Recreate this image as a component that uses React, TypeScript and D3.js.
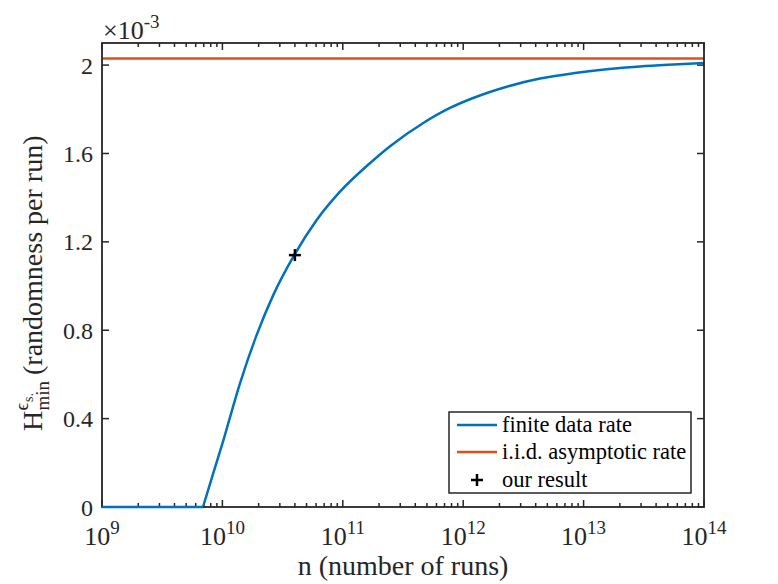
import React from "react";
import * as d3 from "d3";

// ---- data ----
const nRuns: number[] = [
  1e9, 6.9e9, 8.4e9, 1.02e10, 1.4e10, 1.93e10, 2.65e10, 3.96e10, 6.07e10, 9.48e10,
  1.68e11, 2.47e11, 4.66e11, 7.77e11, 1.21e12, 2.3e12, 4.34e12, 8.2e12, 1.56e13,
  2.94e13, 5.56e13, 1e14,
];
const finiteRate: number[] = [
  0, 0, 0.153, 0.303, 0.56, 0.78, 0.96, 1.141, 1.299, 1.427,
  1.556, 1.633, 1.738, 1.806, 1.851, 1.902, 1.939, 1.963, 1.981,
  1.994, 2.003, 2.01,
].map((v) => v * 1e-3);
const iidRate: number = 2.03e-3;
const ourResultN: number = 4.0e10;
const ourResultRate: number = 1.14e-3;

const xDecades: number[] = [9, 10, 11, 12, 13, 14];
const yTicks: number[] = [0, 0.4e-3, 0.8e-3, 1.2e-3, 1.6e-3, 2.0e-3];
const yTickLabels: string[] = ["0", "0.4", "0.8", "1.2", "1.6", "2"];
const legendLabels: string[] = ["finite data rate", "i.i.d. asymptotic rate", "our result"];

const BLUE = "#0072BD";
const ORANGE = "#D95319";
const AX = "#262626";
const FONT = '"Liberation Serif", "DejaVu Serif", serif';

export default function App() {
  const W = 778, H = 584;
  const left = 102, right = 704, top = 43, bottom = 507;

  const x = d3.scaleLog().domain([1e9, 1e14]).range([left, right]);
  const y = d3.scaleLinear().domain([0, 2.1e-3]).range([bottom, top]);

  // flat part (rate = 0) and rising part drawn separately so the corner stays sharp
  const idx = nRuns.map((_, i) => i);
  const flatIdx = idx.filter((i) => finiteRate[i] === 0);
  const riseIdx = idx.filter((i) => i >= flatIdx[flatIdx.length - 1]);

  const line = d3
    .line<number>()
    .x((i) => x(nRuns[i]))
    .y((i) => y(finiteRate[i]))
    .curve(d3.curveMonotoneX);
  const flatLine = d3
    .line<number>()
    .x((i) => x(nRuns[i]))
    .y((i) => y(finiteRate[i]));

  const majorLen = 7, minorLen = 4;
  const minor: number[] = [];
  for (const k of xDecades.slice(0, -1)) {
    for (let m = 2; m <= 9; m++) minor.push(m * Math.pow(10, k));
  }

  const tickFont = 24;
  const xTickFont = 26;
  const supFont = 19;
  const labelFont = 28;
  const legFont = 22.5;
  const ts = { fontFamily: FONT };

  const lx = 449, ly = 412, lw = 242, lh = 81;
  const rows = [425, 452, 480];

  return (
    <svg width={W} height={H} style={{ position: "absolute", left: 0, top: 0, background: "#fff", fontFamily: FONT }}>
      <rect x={0} y={0} width={W} height={H} fill="#fff" />

      {minor.map((v, i) => (
        <g key={"mi" + i} stroke={AX} strokeWidth={1.5}>
          <line x1={x(v)} x2={x(v)} y1={bottom} y2={bottom - minorLen} />
          <line x1={x(v)} x2={x(v)} y1={top} y2={top + minorLen} />
        </g>
      ))}
      {xDecades.map((k) => {
        const px = x(Math.pow(10, k));
        return (
          <g key={"mx" + k} stroke={AX} strokeWidth={1.5}>
            <line x1={px} x2={px} y1={bottom} y2={bottom - majorLen} />
            <line x1={px} x2={px} y1={top} y2={top + majorLen} />
          </g>
        );
      })}
      {yTicks.map((v, i) => (
        <g key={"yt" + i} stroke={AX} strokeWidth={1.5}>
          <line x1={left} x2={left + majorLen} y1={y(v)} y2={y(v)} />
          <line x1={right} x2={right - majorLen} y1={y(v)} y2={y(v)} />
        </g>
      ))}

      <line x1={x(1e9)} x2={x(1e14)} y1={y(iidRate)} y2={y(iidRate)} stroke={ORANGE} strokeWidth={2.5} />
      <path d={line(riseIdx) || ""} fill="none" stroke={BLUE} strokeWidth={2.5} strokeLinejoin="round" />
      <g stroke="#000" strokeWidth={2.5}>
        <line x1={x(ourResultN) - 6} x2={x(ourResultN) + 6} y1={y(ourResultRate)} y2={y(ourResultRate)} />
        <line x1={x(ourResultN)} x2={x(ourResultN)} y1={y(ourResultRate) - 6} y2={y(ourResultRate) + 6} />
      </g>

      <rect x={left} y={top} width={right - left} height={bottom - top} fill="none" stroke={AX} strokeWidth={1.8} />
      <path d={flatLine(flatIdx) || ""} fill="none" stroke={BLUE} strokeWidth={2.5} />

      {xDecades.map((k) => (
        <text key={"xl" + k} x={x(Math.pow(10, k))} y={545} fontSize={xTickFont} fill={AX} textAnchor="middle" style={ts}>
          10<tspan fontSize={supFont} dy={-11}>{k}</tspan>
        </text>
      ))}
      {yTicks.map((v, i) => (
        <text key={"yl" + i} x={93} y={y(v) + 8.5} fontSize={tickFont} fill={AX} textAnchor="end" style={ts}>
          {yTickLabels[i]}
        </text>
      ))}
      <text x={103} y={39} fontSize={xTickFont} fill={AX} style={ts}>
        ×10<tspan fontSize={supFont} dy={-11}>-3</tspan>
      </text>

      <text x={403} y={575} fontSize={labelFont} fill={AX} textAnchor="middle" style={ts}>n (number of runs)</text>

      <g transform="translate(42, 431) rotate(-90)" fill={AX}>
        <text x={0} y={0} fontSize={labelFont} style={ts}>H</text>
        <text x={20.5} y={7} fontSize={19} style={ts}>min</text>
        <text x={20.5} y={-14} fontSize={19} style={ts}>ϵ</text>
        <text x={29} y={-9} fontSize={14} style={ts}>s.</text>
        <text x={56} y={0} fontSize={labelFont} style={ts}>(randomness per run)</text>
      </g>

      <rect x={lx} y={ly} width={lw} height={lh} fill="#fff" stroke={AX} strokeWidth={1.5} />
      <line x1={457} x2={497} y1={rows[0]} y2={rows[0]} stroke={BLUE} strokeWidth={2.5} />
      <line x1={457} x2={497} y1={rows[1]} y2={rows[1]} stroke={ORANGE} strokeWidth={2.5} />
      <g stroke="#000" strokeWidth={2.5}>
        <line x1={471} x2={483} y1={rows[2]} y2={rows[2]} />
        <line x1={477} x2={477} y1={rows[2] - 6} y2={rows[2] + 6} />
      </g>
      {legendLabels.map((t, i) => (
        <text key={"lg" + i} x={502} y={rows[i] + 7} fontSize={legFont} fill="#000" style={ts}>{t}</text>
      ))}
    </svg>
  );
}
